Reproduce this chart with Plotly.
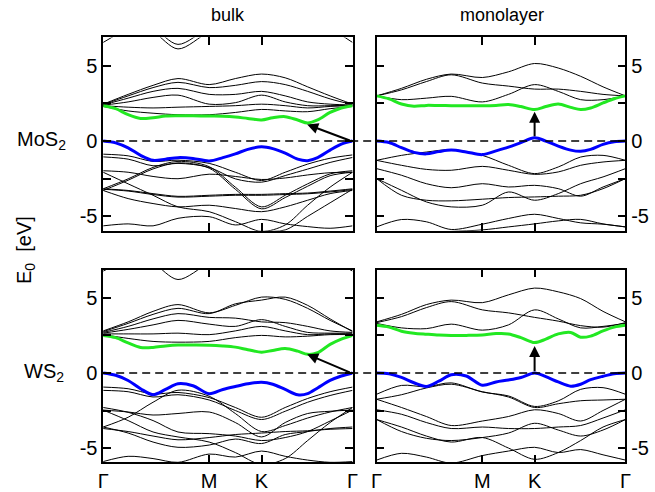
import plotly.graph_objects as go

# ---------------- k-path ----------------
K = [0, 0.1, 0.2, 0.3, 0.425, 0.53, 0.635, 0.73, 0.82, 0.91, 1.0]
KF = [0, .05, .1, .15, .2, .25, .3, .36, .425, .48, .53, .58, .635, .68, .73, .78, .82, .86, .91, .955, 1.0]
K_TICKS = [0, 0.425, 0.635, 1.0]
K_LABELS = ["Γ", "M", "K", "Γ"]
E_TICKS = [-5, -2.5, 0, 2.5, 5]
E_LABELS = ["-5", "", "0", "", "5"]

# ---------------- bulk MoS2 ----------------
MOS2_BULK_VB = [0, -0.12, -0.45, -0.95, -1.28, -1.2, -1.1, -1.15, -1.32, -1.1, -0.85, -0.55, -0.38,
                -0.5, -0.8, -1.2, -1.3, -1.1, -0.6, -0.2, 0]
MOS2_BULK_CB = [2.35, 2.15, 1.75, 1.5, 1.55, 1.66, 1.68, 1.68, 1.66, 1.65, 1.6, 1.5, 1.4,
                1.55, 1.62, 1.4, 1.2, 1.4, 1.9, 2.2, 2.35]
MOS2_BULK_BANDS = [
    [6.55, 7.4, 7.6, 7.6, 7.6, 7.6, 7.6, 7.6, 7.6, 7.4, 6.55],
    [7.8, 7.8, 7.25, 6.12, 7.25, 7.8, 7.8, 7.8, 7.8, 7.8, 7.8],
    [7.9, 7.9, 7.5, 6.42, 7.5, 7.9, 7.9, 7.9, 7.9, 7.9, 7.9],
    [2.45, 3.1, 3.7, 4.15, 3.75, 4.15, 4.45, 4.2, 3.6, 3.0, 2.45],
    [2.42, 3.0, 3.55, 3.9, 3.55, 3.7, 3.95, 3.75, 3.3, 2.8, 2.42],
    [2.4, 2.85, 3.3, 3.5, 3.1, 3.1, 3.3, 3.0, 2.6, 2.45, 2.4],
    [2.38, 2.6, 2.9, 3.05, 2.45, 2.55, 3.05, 2.6, 2.35, 2.35, 2.38],
    [2.35, 2.25, 2.2, 2.25, 2.3, 2.35, 2.45, 2.35, 2.2, 2.3, 2.35],
    [2.3, 2.0, 1.85, 1.75, 1.75, 1.9, 2.1, 2.0, 1.95, 2.15, 2.3],
    [-0.87, -0.98, -1.35, -1.27, -1.48, -2.07, -2.62, -2.07, -1.53, -1.14, -0.92],
    [-1.05, -1.2, -1.64, -1.48, -1.75, -2.51, -2.73, -2.29, -1.86, -1.42, -1.09],
    [-3.17, -2.51, -1.75, -1.35, -1.7, -3.06, -4.37, -3.6, -2.84, -2.18, -1.97],
    [-3.28, -2.6, -1.85, -1.45, -1.8, -3.2, -4.5, -3.75, -3.0, -2.3, -2.07],
    [-1.97, -2.07, -2.35, -2.5, -2.2, -2.35, -2.55, -2.45, -2.25, -2.1, -2.07],
    [-2.07, -2.84, -3.6, -4.37, -4.69, -5.35, -6.0, -5.57, -4.26, -3.06, -2.07],
    [-3.17, -3.28, -3.49, -3.67, -3.6, -3.54, -3.54, -3.49, -3.45, -3.32, -3.17],
    [-3.2, -3.32, -3.55, -3.72, -3.66, -3.6, -3.6, -3.55, -3.5, -3.38, -3.22],
    [-3.28, -3.82, -4.15, -4.37, -4.26, -4.48, -4.69, -4.37, -3.93, -3.49, -3.28],
    [-5.63, -5.5, -5.63, -5.13, -5.02, -5.57, -5.2, -5.5, -5.68, -5.79, -5.63],
    [-6.3, -6.2, -6.2, -6.3, -6.3, -6.1, -6.0, -5.9, -5.0, -4.1, -3.2],
]

# ---------------- monolayer MoS2 ----------------
MOS2_MONO_VB = [0, -0.1, -0.44, -0.75, -0.85, -0.7, -0.6, -0.72, -0.9, -0.65, -0.4, -0.1, 0.22,
                0.0, -0.33, -0.6, -0.68, -0.55, -0.22, -0.05, 0]
MOS2_MONO_CB = [3.0, 2.8, 2.46, 2.31, 2.37, 2.36, 2.35, 2.35, 2.35, 2.37, 2.42, 2.29, 2.09,
                2.29, 2.46, 2.24, 2.09, 2.2, 2.53, 2.81, 3.0]
MOS2_MONO_BANDS = [
    [3.0, 3.5, 4.1, 4.45, 4.22, 4.6, 5.15, 4.85, 4.3, 3.6, 3.0],
    [3.0, 3.4, 3.95, 4.4, 3.85, 3.65, 3.45, 3.45, 3.3, 3.1, 3.0],
    [3.0, 2.75, 2.85, 2.97, 2.6, 3.1, 3.75, 3.3, 2.75, 2.75, 3.0],
    [-1.28, -0.95, -0.73, -0.57, -0.95, -1.61, -2.16, -1.72, -1.06, -0.95, -1.28],
    [-1.28, -1.61, -1.88, -1.94, -1.68, -1.94, -2.21, -2.05, -1.61, -1.39, -1.28],
    [-1.83, -2.27, -2.83, -3.1, -2.83, -3.05, -2.94, -3.16, -3.66, -3.05, -2.49],
    [-2.49, -3.27, -4.04, -4.37, -4.26, -3.38, -3.93, -3.49, -2.83, -2.38, -1.83],
    [-2.49, -3.6, -3.93, -3.97, -3.86, -3.75, -3.71, -3.66, -3.6, -3.16, -2.49],
    [-5.7, -5.21, -5.36, -5.87, -5.52, -5.14, -4.86, -5.14, -5.43, -5.52, -5.7],
    [-6.3, -6.2, -6.1, -6.0, -5.9, -5.7, -5.5, -5.3, -5.2, -5.5, -5.7],
]

# ---------------- bulk WS2 ----------------
WS2_BULK_VB = [0, -0.15, -0.5, -1.05, -1.45, -1.1, -0.72, -0.85, -1.38, -1.1, -0.9, -0.72, -0.62,
               -0.75, -1.1, -1.45, -1.38, -1.0, -0.5, -0.2, 0]
WS2_BULK_CB = [2.5, 2.35, 2.0, 1.7, 1.7, 1.8, 1.86, 1.86, 1.85, 1.8, 1.72, 1.55, 1.38,
               1.5, 1.62, 1.45, 1.24, 1.35, 1.9, 2.25, 2.5]
WS2_BULK_BANDS = [
    [6.78, 7.5, 7.7, 7.7, 7.7, 7.7, 7.7, 7.7, 7.7, 7.5, 6.78],
    [7.8, 7.8, 7.3, 6.22, 7.3, 7.8, 7.8, 7.8, 7.8, 7.8, 7.8],
    [2.8, 3.4, 4.1, 4.55, 4.0, 4.5, 5.05, 4.9, 4.3, 3.5, 2.8],
    [2.75, 3.3, 3.9, 4.3, 3.95, 4.6, 4.85, 5.05, 4.5, 3.6, 2.75],
    [2.7, 3.1, 3.6, 3.95, 3.7, 3.65, 3.4, 3.35, 3.1, 2.8, 2.7],
    [2.65, 2.9, 3.2, 3.5, 3.25, 3.1, 3.55, 3.1, 2.7, 2.65, 2.65],
    [2.6, 2.6, 2.6, 2.65, 2.55, 2.8, 3.1, 2.8, 2.55, 2.6, 2.6],
    [2.55, 2.3, 2.1, 2.05, 2.1, 2.35, 2.5, 2.4, 2.45, 2.55, 2.55],
    [-0.94, -1.05, -1.4, -1.3, -1.64, -2.3, -2.95, -2.3, -1.7, -1.25, -0.94],
    [-1.16, -1.25, -1.6, -1.45, -1.8, -2.5, -3.1, -2.55, -1.95, -1.5, -1.16],
    [-3.6, -2.95, -1.95, -1.15, -1.55, -2.7, -3.9, -3.5, -3.0, -2.6, -2.3],
    [-2.3, -2.62, -3.17, -3.93, -4.04, -4.2, -4.5, -4.3, -3.9, -3.2, -2.47],
    [-2.47, -3.17, -3.93, -4.26, -4.6, -5.3, -6.1, -5.7, -4.5, -3.3, -2.3],
    [-3.6, -4.0, -4.6, -4.95, -4.8, -4.4, -4.7, -4.1, -3.9, -3.7, -3.6],
    [-3.7, -3.9, -4.2, -4.45, -4.3, -4.1, -4.0, -3.9, -3.85, -3.75, -3.7],
    [-2.47, -2.6, -2.8, -2.7, -2.6, -3.3, -4.26, -3.3, -2.7, -2.55, -2.47],
    [-5.9, -5.55, -5.7, -5.95, -5.4, -5.6, -5.2, -5.55, -5.8, -5.95, -5.9],
]

# ---------------- monolayer WS2 ----------------
WS2_MONO_VB = [0, -0.05, -0.3, -0.65, -0.9, -0.55, -0.12, -0.2, -0.82, -0.6, -0.47, -0.3, 0,
               -0.25, -0.6, -0.88, -0.75, -0.45, -0.22, -0.05, 0]
WS2_MONO_CB = [3.17, 3.05, 2.78, 2.65, 2.58, 2.52, 2.49, 2.5, 2.53, 2.62, 2.6, 2.35, 2.02,
               2.25, 2.6, 2.7, 2.38, 2.45, 2.8, 3.05, 3.17]
WS2_MONO_BANDS = [
    [3.4, 3.9, 4.55, 4.85, 4.68, 5.2, 5.65, 5.4, 4.95, 4.1, 3.4],
    [3.35, 3.75, 4.35, 4.75, 4.2, 4.0, 3.7, 3.45, 3.15, 3.05, 3.35],
    [3.3, 3.0, 2.95, 3.25, 2.85, 3.2, 4.2, 3.6, 3.0, 3.1, 3.3],
    [-1.42, -0.83, -0.92, -0.66, -1.27, -1.53, -2.23, -1.86, -1.09, -0.98, -1.42],
    [-1.75, -1.45, -1.0, -0.75, -1.25, -1.6, -2.3, -2.05, -1.85, -1.8, -1.75],
    [-1.75, -2.3, -2.9, -3.5, -3.2, -2.9, -2.45, -2.7, -3.2, -2.5, -1.75],
    [-2.45, -2.75, -3.3, -3.7, -3.6, -3.7, -3.7, -3.6, -3.5, -3.0, -2.45],
    [-3.1, -3.6, -4.2, -4.6, -4.3, -5.0, -5.75, -5.3, -4.5, -3.6, -3.1],
    [-3.1, -3.9, -4.35, -4.5, -4.3, -4.0, -3.35, -3.8, -4.2, -3.8, -3.1],
    [-5.8, -5.35, -5.6, -6.0, -5.5, -5.2, -4.95, -5.3, -5.1, -5.45, -5.8],
]

# arrows: (tail k, tail E, head k, head E)
ARROW_MOS2_BULK = (0.995, 0.0, 0.818, 1.1)
ARROW_MOS2_MONO = (0.635, 0.22, 0.635, 1.95)
ARROW_WS2_BULK = (0.995, 0.0, 0.818, 1.25)
ARROW_WS2_MONO = (0.635, 0.02, 0.635, 1.8)

E_RANGE = [-5.95, 6.88]
FONT = "Liberation Sans, Arial, Helvetica, sans-serif"
W, H = 655, 492

panels = [
    ("x", "y", MOS2_BULK_BANDS, MOS2_BULK_VB, MOS2_BULK_CB, ARROW_MOS2_BULK),
    ("x2", "y2", MOS2_MONO_BANDS, MOS2_MONO_VB, MOS2_MONO_CB, ARROW_MOS2_MONO),
    ("x3", "y3", WS2_BULK_BANDS, WS2_BULK_VB, WS2_BULK_CB, ARROW_WS2_BULK),
    ("x4", "y4", WS2_MONO_BANDS, WS2_MONO_VB, WS2_MONO_CB, ARROW_WS2_MONO),
]

fig = go.Figure()
annotations = []
for xa, ya, bands, vb, cb, arr in panels:
    for b in bands:
        fig.add_trace(go.Scatter(x=K, y=b, mode="lines", xaxis=xa, yaxis=ya,
                                 line=dict(color="black", width=1, shape="spline", smoothing=0.9),
                                 showlegend=False, hoverinfo="skip"))
    fig.add_trace(go.Scatter(x=KF, y=vb, mode="lines", xaxis=xa, yaxis=ya,
                             line=dict(color="#0000ff", width=3, shape="spline", smoothing=0.9),
                             showlegend=False, hoverinfo="skip"))
    fig.add_trace(go.Scatter(x=KF, y=cb, mode="lines", xaxis=xa, yaxis=ya,
                             line=dict(color="#22e822", width=3, shape="spline", smoothing=0.9),
                             showlegend=False, hoverinfo="skip"))
    annotations.append(dict(x=arr[2], y=arr[3], ax=arr[0], ay=arr[1], xref=xa, yref=ya,
                            axref=xa, ayref=ya, text="", showarrow=True, arrowhead=2,
                            arrowsize=1.1, arrowwidth=2, arrowcolor="black"))

xl = [99 / W, 353 / W]
xr = [377.5 / W, 631 / W]
yt = [1 - 234 / H, 1 - 38 / H]
yb = [1 - 469 / H, 1 - 273.5 / H]

def xaxis(dom, anchor, labels):
    return dict(domain=dom, anchor=anchor, range=[0, 1], tickvals=K_TICKS, ticktext=K_LABELS,
                showticklabels=labels, ticks="inside", ticklen=8, tickwidth=1.5, tickcolor="black",
                showline=True, linecolor="black", linewidth=1.5, mirror="ticks",
                showgrid=False, zeroline=False, tickfont=dict(size=20, color="black"))

def yaxis(dom, anchor, side):
    return dict(domain=dom, anchor=anchor, range=E_RANGE, tickvals=E_TICKS, ticktext=E_LABELS,
                side=side, ticks="inside", ticklen=8, tickwidth=1.5, tickcolor="black",
                showline=True, linecolor="black", linewidth=1.5, mirror="ticks",
                showgrid=False, zeroline=False, tickfont=dict(size=20, color="black"))

shapes = []
for ya in ["y", "y3"]:
    shapes.append(dict(type="line", xref="paper", yref=ya, x0=99 / W, x1=631 / W, y0=0, y1=0,
                       line=dict(color="black", width=1.5, dash="8px,5px"), layer="above"))

texts = [
    ("bulk", 226, 15, 0, 18),
    ("monolayer", 505, 15, 0, 18),
    ("MoS<sub>2</sub>", 36, 143, 0, 20),
    ("WS<sub>2</sub>", 39, 378, 0, 20),
    ("E<sub>0</sub>  [eV]", 20, 254, -90, 20),
]
for t, px, py, ang, sz in texts:
    annotations.append(dict(text=t, x=px / W, y=1 - py / H, xref="paper", yref="paper",
                            xanchor="center", yanchor="middle", showarrow=False, textangle=ang,
                            font=dict(size=sz, color="black", family=FONT)))

fig.update_layout(
    width=W, height=H, margin=dict(l=0, r=0, t=0, b=0),
    paper_bgcolor="white", plot_bgcolor="white",
    font=dict(family=FONT, color="black"),
    xaxis=xaxis(xl, "y", False), yaxis=yaxis(yt, "x", "left"),
    xaxis2=xaxis(xr, "y2", False), yaxis2=yaxis(yt, "x2", "right"),
    xaxis3=xaxis(xl, "y3", True), yaxis3=yaxis(yb, "x3", "left"),
    xaxis4=xaxis(xr, "y4", True), yaxis4=yaxis(yb, "x4", "right"),
    shapes=shapes, annotations=annotations,
)

fig.write_html("out.html")
